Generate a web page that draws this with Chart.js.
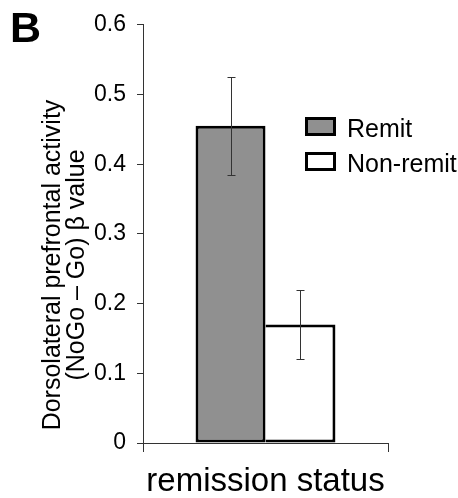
<!DOCTYPE html>
<html>
<head>
<meta charset="utf-8">
<script src="https://cdn.jsdelivr.net/npm/chart.js@4.4.1/dist/chart.umd.min.js"></script>
<style>
  html, body { margin: 0; padding: 0; background: #fff; }
  #wrap { width: 458px; height: 498px; }
</style>
</head>
<body>
<div id="wrap"><canvas id="chart" width="458" height="498"></canvas></div>
<script>
// ======================
// Datos
// ======================
const categories = [""];
const seriesNames = ["Remit", "Non-remit"];
const remitValues = [0.455];
const nonRemitValues = [0.17];
const remitErrLow = [0.385];
const remitErrHigh = [0.525];
const nonRemitErrLow = [0.12];
const nonRemitErrHigh = [0.22];
const yTickLabels = ["0", "0.1", "0.2", "0.3", "0.4", "0.5", "0.6"];
const yTitleLines = ["Dorsolateral prefrontal activity", "(NoGo \u2013 Go) \u03b2 value"];
const xTitle = "remission status";
const panelLabel = "B";

const FONT = "'Liberation Sans', Arial, sans-serif";
const seriesFill = ["#909090", "#ffffff"];

// ======================
// Plugins propios
// ======================
const errorBars = {
  id: "errorBars",
  afterDatasetsDraw(chart) {
    const ctx = chart.ctx;
    const y = chart.scales.y;
    const errs = [[remitErrLow, remitErrHigh], [nonRemitErrLow, nonRemitErrHigh]];
    ctx.save();
    ctx.strokeStyle = "#333";
    ctx.lineWidth = 1;
    errs.forEach(([lo, hi], di) => {
      chart.getDatasetMeta(di).data.forEach((bar, i) => {
        const x = Math.round(bar.x) + 0.5;
        const yl = Math.round(y.getPixelForValue(lo[i])) + 0.5;
        const yh = Math.round(y.getPixelForValue(hi[i])) + 0.5;
        ctx.beginPath();
        ctx.moveTo(x, yl); ctx.lineTo(x, yh);
        ctx.moveTo(x - 4, yl); ctx.lineTo(x + 4, yl);
        ctx.moveTo(x - 4, yh); ctx.lineTo(x + 4, yh);
        ctx.stroke();
      });
    });
    ctx.restore();
  }
};

const sideText = {
  id: "sideText",
  afterDraw(chart) {
    const ctx = chart.ctx;
    const ca = chart.chartArea;
    ctx.save();

    // leyenda
    const bx = ca.left + 162;
    const tops = [117, 152];
    chart.data.datasets.forEach((ds, i) => {
      ctx.fillStyle = ds.backgroundColor;
      ctx.fillRect(bx, tops[i], 31, 19);
      ctx.strokeStyle = "#000";
      ctx.lineWidth = 3;
      ctx.strokeRect(bx + 1.5, tops[i] + 1.5, 28, 16);
      ctx.fillStyle = "#000";
      ctx.font = "25px " + FONT;
      ctx.textBaseline = "alphabetic";
      ctx.textAlign = "left";
      ctx.fillText(ds.label, bx + 42, tops[i] + 20);
    });

    // titulo eje y (dos lineas)
    ctx.font = "25px " + FONT;
    ctx.textAlign = "center";
    ctx.textBaseline = "alphabetic";
    const baseX = [60, 84];
    yTitleLines.forEach((t, i) => {
      ctx.save();
      ctx.translate(baseX[i], 265);
      ctx.rotate(-Math.PI / 2);
      ctx.fillText(t, 0, 0);
      ctx.restore();
    });

    // letra del panel
    ctx.font = "bold 43px " + FONT;
    ctx.textAlign = "left";
    ctx.fillText(panelLabel, 10, 42);
    ctx.restore();
  }
};

// ======================
// Chart.js
// ======================
new Chart(document.getElementById("chart"), {
  type: "bar",
  data: {
    labels: categories,
    datasets: [
      {
        label: seriesNames[0],
        data: remitValues,
        backgroundColor: seriesFill[0],
        borderColor: "#000",
        borderWidth: 3,
        borderSkipped: false
      },
      {
        label: seriesNames[1],
        data: nonRemitValues,
        backgroundColor: seriesFill[1],
        borderColor: "#000",
        borderWidth: { top: 3, right: 3, bottom: 3, left: 0 },
        borderSkipped: false
      }
    ]
  },
  options: {
    responsive: false,
    animation: false,
    categoryPercentage: 0.571,
    barPercentage: 1.0,
    layout: { padding: { left: 0, right: 70, top: 20, bottom: 0 } },
    plugins: {
      legend: { display: false },
      tooltip: { enabled: false }
    },
    scales: {
      x: {
        offset: true,
        ticks: { display: false },
        grid: { offset: true, drawOnChartArea: false, tickLength: 9, color: "#333" },
        border: { color: "#333", width: 1 },
        title: {
          display: true,
          text: xTitle,
          color: "#000",
          font: { family: FONT, size: 33, lineHeight: 1 },
          padding: 0
        },
        afterFit: (s) => { s.height = 55; }
      },
      y: {
        min: 0,
        max: 0.6,
        ticks: {
          stepSize: 0.1,
          color: "#000",
          padding: 11,
          font: { family: FONT, size: 23 },
          callback: (v, i) => yTickLabels[i]
        },
        grid: { drawOnChartArea: false, tickLength: 6, color: "#333" },
        border: { color: "#333", width: 1 },
        afterFit: (s) => { s.width = 143; }
      }
    }
  },
  plugins: [errorBars, sideText]
});
</script>
</body>
</html>
